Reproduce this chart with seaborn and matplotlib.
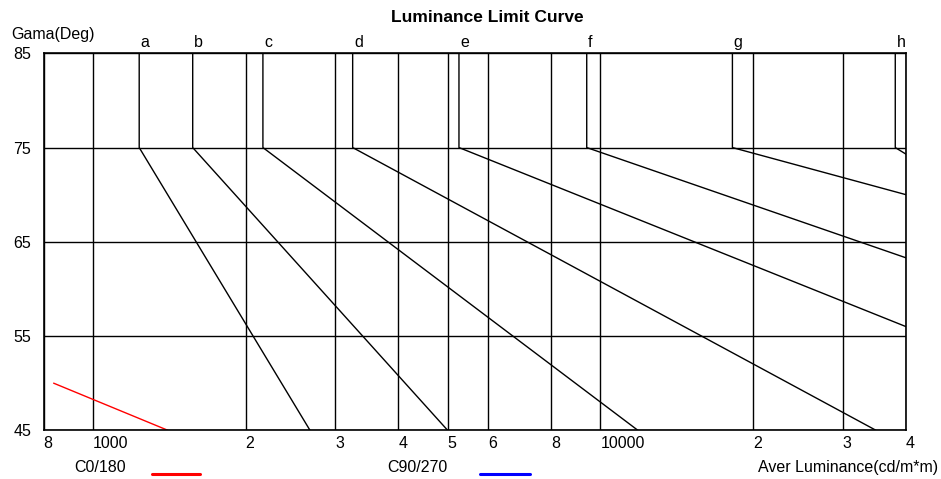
import pandas as pd
import seaborn as sns
import matplotlib.pyplot as plt
from matplotlib.lines import Line2D
from matplotlib.ticker import NullLocator

# limit curves a..h: vertical from 85 to 75 deg at start_lum, then straight to the end point
curve_names = ['a', 'b', 'c', 'd', 'e', 'f', 'g', 'h']
start_lum = [1234, 1573, 2163, 3250, 5264, 9398, 18200, 38100]
end_lum = [2678, 5000, 11850, 34900, 40000, 40000, 40000, 40000]
end_gamma = [45, 45, 45, 45, 56.0, 63.3, 70.0, 74.3]

# measured curve C0/180
c0_lum = [837, 1405]
c0_gamma = [50, 45]

x_ticks = [800, 1000, 2000, 3000, 4000, 5000, 6000, 8000, 10000, 20000, 30000, 40000]
x_labels = ['8', '1000', '2', '3', '4', '5', '6', '8', '10000', '2', '3', '4']
y_ticks = [45, 55, 65, 75, 85]

rows = []
for name, s, e, g in zip(curve_names, start_lum, end_lum, end_gamma):
    rows.append((name, 0, s, 85))
    rows.append((name, 1, s, 75))
    rows.append((name, 2, e, g))
df = pd.DataFrame(rows, columns=['curve', 'order', 'lum', 'gamma'])
df_c0 = pd.DataFrame({'lum': c0_lum, 'gamma': c0_gamma})

sns.set_style('white')
plt.rcParams['font.family'] = ['Liberation Sans', 'DejaVu Sans']
plt.rcParams['text.color'] = 'black'

fig = plt.figure(figsize=(9.41, 4.79), dpi=100)
ax = fig.add_axes([0.0464, 0.1017, 0.9164, 0.7870])

sns.lineplot(data=df, x='lum', y='gamma', units='curve', estimator=None, sort=False,
             color='black', lw=1.0, ax=ax, legend=False)
sns.lineplot(data=df_c0, x='lum', y='gamma', sort=False, color='red', lw=1.0, ax=ax)

ax.set_xscale('log')
ax.set_xlim(800, 40000)
ax.set_ylim(45, 85)
ax.set_xticks(x_ticks)
ax.set_xticklabels(x_labels, ha='left')
ax.xaxis.set_minor_locator(NullLocator())
ax.set_yticks(y_ticks)
ax.grid(True, which='major', color='black', lw=1.0)
ax.tick_params(axis='both', length=0, labelsize=11.5, colors='black')
ax.tick_params(axis='x', pad=4)
ax.tick_params(axis='y', pad=9)
ax.set_xlabel('')
ax.set_ylabel('')
for sp in ax.spines.values():
    sp.set_color('black')
    sp.set_linewidth(1.2)

# curve letters above the top edge
for name, s in zip(curve_names, start_lum):
    ax.annotate(name, (s, 85), xytext=(1, 4.5), textcoords='offset points',
                ha='left', va='baseline', fontsize=11.5, color='black')

fig.text(487 / 941, 1 - 17.5 / 479, 'Luminance Limit Curve', ha='center', va='center',
         fontsize=12.5, fontweight='bold')
fig.text(11.7 / 941, 1 - 35 / 479, 'Gama(Deg)', ha='left', va='center', fontsize=11.5)
fig.text(938 / 941, 1 - 467.5 / 479, 'Aver Luminance(cd/m*m)', ha='right', va='center', fontsize=11.5)

# legend row
fig.text(74 / 941, 1 - 467.5 / 479, 'C0/180', ha='left', va='center', fontsize=11.5)
fig.add_artist(Line2D([151.7 / 941, 200 / 941], [1 - 474.3 / 479] * 2, color='red', lw=2.2))
fig.text(387 / 941, 1 - 467.5 / 479, 'C90/270', ha='left', va='center', fontsize=11.5)
fig.add_artist(Line2D([480 / 941, 530 / 941], [1 - 474.3 / 479] * 2, color='blue', lw=2.2))

plt.savefig('out.png', dpi=100)
